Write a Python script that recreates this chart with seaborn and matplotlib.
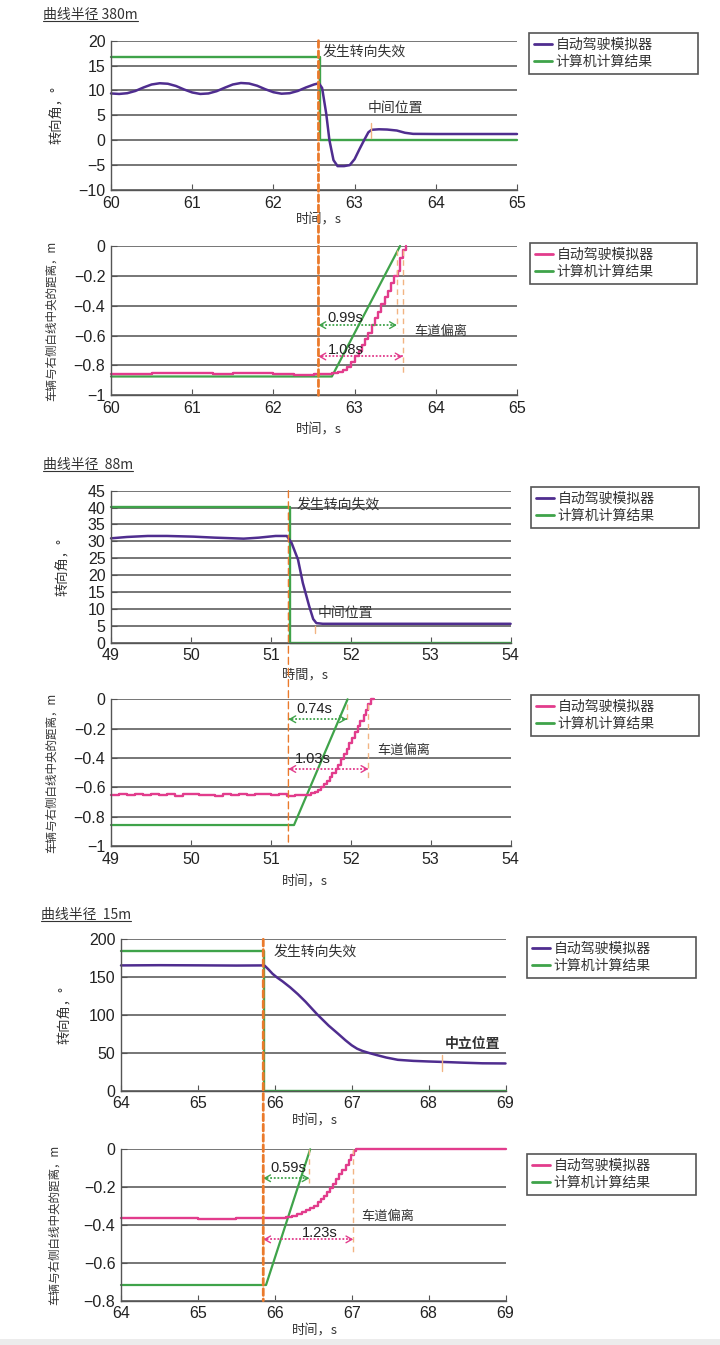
import matplotlib
matplotlib.use("Agg")
import matplotlib.pyplot as plt
from matplotlib.lines import Line2D
from matplotlib.patches import ConnectionPatch, Rectangle
from matplotlib.ticker import FuncFormatter, MultipleLocator
import seaborn as sns

sns.set_theme(style="white")
plt.rcParams["font.family"] = ["Noto Sans CJK SC", "DejaVu Sans"]

PURPLE = "#4f2d8f"
GREEN = "#3fa34a"
PINK = "#e23c8c"
ORANGE = "#ea7a2c"
PALE = "#f2b483"
GRID = "#767676"
TXT = "#333333"
NUM = "Liberation Sans"

LBL_SIM = "自动驾驶模拟器"
LBL_CALC = "计算机计算结果"
TITLES = ["曲线半径 380m", "曲线半径  88m", "曲线半径  15m"]
FAIL_T = [62.555, 51.22, 65.85]

# ---- curve radius 380 m ----
r380_ang_t = [60.0, 60.1, 60.2, 60.3, 60.4, 60.5, 60.6, 60.7, 60.8, 60.9, 61.0, 61.1,
              61.2, 61.3, 61.4, 61.5, 61.6, 61.7, 61.8, 61.9, 62.0, 62.1, 62.2, 62.3,
              62.4, 62.5, 62.56, 62.6, 62.65, 62.69, 62.74, 62.79, 62.87, 62.94, 63.0,
              63.06, 63.12, 63.17, 63.21, 63.3, 63.4, 63.52, 63.62, 63.72, 64.0, 65.0]
r380_ang = [9.4, 9.3, 9.45, 9.9, 10.6, 11.2, 11.45, 11.35, 10.9, 10.2, 9.6, 9.3,
            9.4, 9.85, 10.55, 11.2, 11.5, 11.4, 10.95, 10.25, 9.65, 9.35, 9.45, 9.9,
            10.6, 11.2, 11.45, 10.5, 5.4, 0.0, -4.0, -5.2, -5.2, -5.0, -3.8,
            -1.8, 0.1, 1.6, 2.1, 2.2, 2.15, 1.95, 1.5, 1.28, 1.25, 1.25]
r380_calc_t = [60.0, 62.575, 62.575, 65.0]
r380_calc = [16.8, 16.8, 0.0, 0.0]
r380_dist_t = [60.0, 60.25, 60.5, 60.75, 61.0, 61.25, 61.5, 61.75, 62.0, 62.25, 62.5,
               62.72, 62.80, 62.86, 62.91, 62.96, 63.01, 63.05, 63.09, 63.13, 63.17,
               63.21, 63.25, 63.29, 63.33, 63.37, 63.41, 63.45, 63.49, 63.53, 63.56,
               63.60, 63.63]
r380_dist = [-0.857, -0.855, -0.851, -0.849, -0.853, -0.858, -0.852, -0.849, -0.854,
             -0.862, -0.858, -0.852, -0.845, -0.83, -0.81, -0.78, -0.74, -0.70, -0.66,
             -0.62, -0.58, -0.53, -0.48, -0.44, -0.39, -0.34, -0.30, -0.25, -0.20,
             -0.17, -0.08, -0.03, 0.0]
r380_dcalc_t = [60.0, 62.72, 63.56]
r380_dcalc = [-0.874, -0.874, 0.0]
r380_end_calc, r380_end_sim = 63.52, 63.59
r380_gap_calc, r380_gap_sim = "0.99s", "1.08s"

# ---- curve radius 88 m ----
r88_ang_t = [49.0, 49.2, 49.46, 49.7, 50.03, 50.3, 50.66, 50.85, 51.06, 51.2, 51.26,
             51.34, 51.4, 51.48, 51.53, 51.57, 51.65, 52.0, 54.0]
r88_ang = [30.9, 31.3, 31.6, 31.6, 31.4, 31.1, 30.8, 31.1, 31.6, 31.6, 29.5,
           24.6, 17.7, 10.8, 7.0, 5.8, 5.6, 5.6, 5.6]
r88_calc_t = [49.0, 51.235, 51.235, 54.0]
r88_calc = [40.3, 40.3, 0.0, 0.0]
r88_dist_t = [49.0, 49.1, 49.2, 49.3, 49.4, 49.5, 49.6, 49.7, 49.8, 49.9, 50.0, 50.1,
              50.2, 50.3, 50.4, 50.5, 50.6, 50.7, 50.8, 50.9, 51.0, 51.1, 51.2, 51.3,
              51.4, 51.45, 51.50, 51.55, 51.59, 51.63, 51.67, 51.70, 51.74, 51.77,
              51.81, 51.84, 51.88, 51.91, 51.95, 51.98, 52.02, 52.05, 52.09, 52.12,
              52.16, 52.19, 52.22, 52.25, 52.29]
r88_dist = [-0.652, -0.648, -0.655, -0.646, -0.651, -0.644, -0.653, -0.647, -0.656,
            -0.648, -0.645, -0.654, -0.649, -0.657, -0.646, -0.652, -0.647, -0.655,
            -0.648, -0.644, -0.653, -0.646, -0.656, -0.649, -0.652, -0.650, -0.642,
            -0.630, -0.615, -0.600, -0.578, -0.556, -0.530, -0.505, -0.475, -0.445,
            -0.410, -0.375, -0.340, -0.300, -0.265, -0.225, -0.185, -0.145, -0.110,
            -0.070, -0.035, 0.0, 0.0]
r88_dcalc_t = [49.0, 51.29, 51.96]
r88_dcalc = [-0.857, -0.857, 0.0]
r88_end_calc, r88_end_sim = 51.95, 52.22
r88_gap_calc, r88_gap_sim = "0.74s", "1.03s"

# ---- curve radius 15 m ----
r15_ang_t = [64.0, 64.5, 65.0, 65.5, 65.85, 65.87, 65.92, 65.97, 66.03, 66.1, 66.2,
             66.3, 66.4, 66.55, 66.7, 66.82, 66.92, 67.0, 67.07, 67.14, 67.22, 67.32,
             67.45, 67.6, 67.8, 68.0, 68.21, 68.45, 68.7, 69.0]
r15_ang = [165.5, 165.8, 165.6, 165.3, 165.5, 165.0, 160.0, 154.5, 149.5, 144.5, 136.5,
           127.5, 117.5, 101.0, 86.0, 75.5, 66.5, 60.0, 55.5, 52.5, 50.0, 47.2,
           43.8, 40.8, 39.4, 38.6, 37.9, 37.0, 36.2, 36.0]
r15_calc_t = [64.0, 65.86, 65.86, 69.0]
r15_calc = [185.0, 185.0, 0.0, 0.0]
r15_dist_t = [64.0, 64.5, 65.0, 65.5, 66.0, 66.15, 66.22, 66.29, 66.35, 66.41, 66.46,
              66.51, 66.56, 66.60, 66.64, 66.68, 66.72, 66.76, 66.80, 66.84, 66.88,
              66.92, 66.96, 66.99, 67.03, 67.05, 69.0]
r15_dist = [-0.365, -0.364, -0.366, -0.365, -0.364, -0.360, -0.352, -0.342, -0.332,
            -0.320, -0.310, -0.297, -0.280, -0.263, -0.245, -0.225, -0.205, -0.182,
            -0.158, -0.133, -0.108, -0.082, -0.056, -0.030, -0.010, 0.0, 0.0]
r15_dcalc_t = [64.0, 65.886, 66.46]
r15_dcalc = [-0.717, -0.717, 0.0]
r15_end_calc, r15_end_sim = 66.45, 67.02
r15_gap_calc, r15_gap_sim = "0.59s", "1.23s"

W, H = 720, 1345
fig = plt.figure(figsize=(W / 100, H / 100), dpi=100)
fig.patch.set_facecolor("white")


def add_ax(l, r, t, b):
    return fig.add_axes([l / W, 1 - b / H, (r - l) / W, (b - t) / H])


def fmt(v, p):
    s = f"{round(v, 6) + 0.0:g}"
    return s.replace("-", "\u2212")


def setup(ax, xlim, ylim, ystep, xlabel, ylabel, ylab_x, xlab_pos):
    ax.set_xlim(xlim)
    ax.set_ylim(ylim)
    ax.xaxis.set_major_locator(MultipleLocator(1))
    ax.yaxis.set_major_locator(MultipleLocator(ystep))
    ax.yaxis.set_major_formatter(FuncFormatter(fmt))
    ax.grid(axis="y", color=GRID, lw=1.4)
    ax.grid(axis="x", visible=False)
    ax.set_axisbelow(True)
    for s in ["top", "right"]:
        ax.spines[s].set_visible(False)
    for s in ["left", "bottom"]:
        ax.spines[s].set_color("#555555")
        ax.spines[s].set_linewidth(1.0)
    ax.tick_params(axis="both", direction="in", length=4, width=0.8, color="#555555",
                   labelcolor="#222222", labelsize=11.5, pad=4, bottom=True, left=True)
    for lab in ax.get_xticklabels() + ax.get_yticklabels():
        lab.set_fontfamily(NUM)
    ax.set_xlabel(xlabel, fontsize=9.5, color=TXT)
    ax.xaxis.set_label_coords(xlab_pos[0], xlab_pos[1])
    ax.set_ylabel(ylabel, fontsize=9.5 if "角" in ylabel else 8.3, color=TXT)
    ax.yaxis.set_label_coords(ylab_x, 0.5)


def line(ax, t, v, color, lw=1.7, **kw):
    sns.lineplot(x=t, y=v, ax=ax, color=color, lw=lw, estimator=None, sort=False,
                 legend=False, **kw)
    ax.lines[-1].set_clip_on(False)


def legend(ax, sim_color, l, r, t):
    handles = [Line2D([], [], color=sim_color, lw=2), Line2D([], [], color=GREEN, lw=2)]
    hh = 41 / H
    leg = ax.legend(handles, [LBL_SIM, LBL_CALC], loc="upper left",
                    bbox_to_anchor=(l / W, 1 - t / H - hh, (r - l) / W, hh),
                    bbox_transform=fig.transFigure, mode="expand", borderaxespad=0,
                    fancybox=False, framealpha=1, fontsize=10, borderpad=0.35,
                    labelspacing=0.25, handlelength=1.3, handletextpad=0.25)
    leg.get_frame().set_edgecolor("#555555")
    leg.get_frame().set_linewidth(1.2)
    for tx in leg.get_texts():
        tx.set_color(TXT)


def gap_arrow(ax, x0, x1, y, color):
    ax.plot([x0, x1], [y, y], color=color, lw=1.3, ls=(0, (1, 1)))
    for a, b in [(x0, x0 + 0.05), (x1, x1 - 0.05)]:
        ax.annotate("", xy=(a, y), xytext=(b, y),
                    arrowprops=dict(arrowstyle="->,head_length=0.35,head_width=0.2",
                                    lw=1.0, color=color, shrinkA=0, shrinkB=0))


def pale_mark(ax, x, y0, y1, dashed=True):
    ax.plot([x, x], [y0, y1], color=PALE, lw=1.0, ls=(0, (4, 3)) if dashed else "-")


def note(ax, x, y, s, **kw):
    kw.setdefault("fontsize", 10)
    ax.text(x, y, s, ha="left", va="center", color=TXT, **kw)


def num_note(ax, x, y, s):
    ax.text(x, y, s, ha="left", va="center", color="#222222", fontsize=10.5,
            fontfamily=NUM)


def fail_line(ax_top, ax_bot, t, lw, dash):
    con = ConnectionPatch(xyA=(t, ax_top.get_ylim()[1]), coordsA=ax_top.transData,
                          xyB=(t, ax_bot.get_ylim()[0]), coordsB=ax_bot.transData,
                          color=ORANGE, lw=lw, linestyle=dash)
    fig.add_artist(con)


titles = []


def title(s, x, y):
    titles.append(fig.text(x / W, 1 - y / H, s, fontsize=10, color=TXT,
                           ha="left", va="center"))


# ================= 380 m =================
title(TITLES[0], 43, 15)
a1 = add_ax(111, 517, 40.7, 190)
line(a1, r380_calc_t, r380_calc, GREEN, lw=1.7)
line(a1, r380_ang_t, r380_ang, PURPLE, lw=1.8)
setup(a1, (60, 65), (-10, 20), 5, "时间，s", "转向角，°", -0.115, (0.512, -0.16))
legend(a1, PURPLE, 529, 698, 33)
note(a1, 62.6, 17.8, "发生转向失效")
note(a1, 63.16, 6.55, "中间位置")
pale_mark(a1, 63.2, 0.5, 3.5, dashed=False)

a2 = add_ax(111, 517, 246, 395.3)
line(a2, r380_dcalc_t, r380_dcalc, GREEN, lw=1.6)
line(a2, r380_dist_t, r380_dist, PINK, lw=1.7, drawstyle="steps-post")
setup(a2, (60, 65), (-1, 0), 0.2, "时间，s", "车辆与右侧白线中央的距离，m", -0.13,
      (0.512, -0.186))
legend(a2, PINK, 530, 697, 243)
pale_mark(a2, r380_end_calc, -0.03, -0.55)
pale_mark(a2, r380_end_sim, -0.03, -0.87)
gap_arrow(a2, FAIL_T[0], r380_end_calc, -0.53, GREEN)
gap_arrow(a2, FAIL_T[0], r380_end_sim, -0.74, PINK)
num_note(a2, 62.66, -0.48, r380_gap_calc)
num_note(a2, 62.67, -0.695, r380_gap_sim)
note(a2, 63.74, -0.57, "车道偏离", fontsize=9.5)
fail_line(a1, a2, FAIL_T[0], 2.0, (0, (2.4, 1.3)))

# ================= 88 m =================
title(TITLES[1], 43, 465)
a3 = add_ax(111, 510.6, 490.7, 642.7)
line(a3, r88_calc_t, r88_calc, GREEN, lw=1.7)
line(a3, r88_ang_t, r88_ang, PURPLE, lw=1.8)
setup(a3, (49, 54), (0, 45), 5, "時間，s", "转向角，°", -0.103, (0.485, -0.173))
legend(a3, PURPLE, 531, 699, 487)
note(a3, 51.32, 40.9, "发生转向失效")
note(a3, 51.58, 8.8, "中间位置")
pale_mark(a3, 51.55, 2.8, 5.0, dashed=False)

a4 = add_ax(111, 510.6, 699.3, 846)
line(a4, r88_dcalc_t, r88_dcalc, GREEN, lw=1.6)
line(a4, r88_dist_t, r88_dist, PINK, lw=1.7, drawstyle="steps-post")
setup(a4, (49, 54), (-1, 0), 0.2, "时间，s", "车辆与右侧白线中央的距离，m", -0.132,
      (0.485, -0.198))
legend(a4, PINK, 531, 699, 695)
pale_mark(a4, r88_end_calc, -0.03, -0.16)
pale_mark(a4, r88_end_sim, -0.03, -0.56)
gap_arrow(a4, FAIL_T[1], r88_end_calc, -0.136, GREEN)
gap_arrow(a4, FAIL_T[1], r88_end_sim, -0.475, PINK)
num_note(a4, 51.32, -0.068, r88_gap_calc)
num_note(a4, 51.30, -0.41, r88_gap_sim)
note(a4, 52.33, -0.345, "车道偏离", fontsize=9.5)
fail_line(a3, a4, FAIL_T[1], 1.0, (0, (5, 3)))

# ================= 15 m =================
title(TITLES[2], 41, 915)
a5 = add_ax(121, 505.5, 939.3, 1090.7)
line(a5, r15_calc_t, r15_calc, GREEN, lw=1.7)
line(a5, r15_ang_t, r15_ang, PURPLE, lw=1.8)
setup(a5, (64, 69), (0, 200), 50, "时间，s", "转向角，°", -0.127, (0.505, -0.16))
legend(a5, PURPLE, 527, 696, 937)
note(a5, 65.98, 183.7, "发生转向失效")
note(a5, 68.21, 61.7, "中立位置", fontweight="bold")
pale_mark(a5, 68.18, 26.5, 47.0, dashed=False)

a6 = add_ax(121, 505.5, 1149.3, 1300.7)
line(a6, r15_dcalc_t, r15_dcalc, GREEN, lw=1.6)
line(a6, r15_dist_t, r15_dist, PINK, lw=1.7, drawstyle="steps-post")
setup(a6, (64, 69), (-0.8, 0), 0.2, "时间，s", "车辆与右侧白线中央的距离，m", -0.157,
      (0.505, -0.16))
legend(a6, PINK, 527, 696, 1154)
pale_mark(a6, r15_end_calc, -0.0, -0.18)
pale_mark(a6, r15_end_sim, -0.0, -0.55)
gap_arrow(a6, FAIL_T[2], r15_end_calc, -0.153, GREEN)
gap_arrow(a6, FAIL_T[2], r15_end_sim, -0.476, PINK)
num_note(a6, 65.94, -0.10, r15_gap_calc)
num_note(a6, 66.35, -0.44, r15_gap_sim)
note(a6, 67.13, -0.356, "车道偏离", fontsize=9.5)
fail_line(a5, a6, FAIL_T[2], 2.0, (0, (2.4, 1.3)))

# underline the case titles
fig.canvas.draw()
inv = fig.transFigure.inverted()
for t in titles:
    bb = t.get_window_extent().transformed(inv)
    fig.add_artist(Line2D([bb.x0, bb.x1], [bb.y0 + 0.0005, bb.y0 + 0.0005],
                          transform=fig.transFigure, color=TXT, lw=0.8))

fig.add_artist(Rectangle((0, 0), 1, 6 / H, transform=fig.transFigure,
                         color="#ececec", lw=0))

fig.savefig("out.png", dpi=100)
